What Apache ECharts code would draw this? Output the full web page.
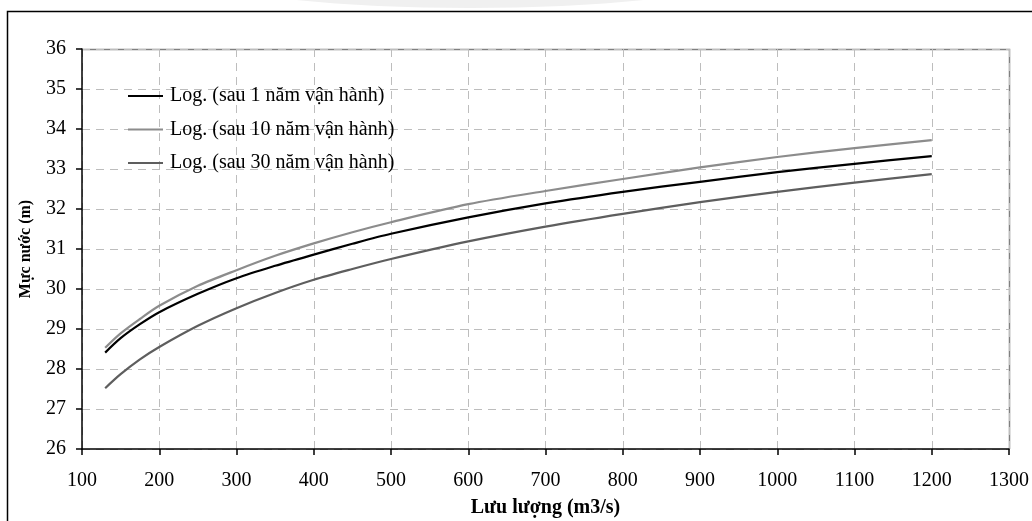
<!DOCTYPE html>
<html>
<head>
<meta charset="utf-8">
<script src="https://cdn.jsdelivr.net/npm/echarts@6/dist/echarts.min.js"></script>
<style>
  html, body { margin: 0; padding: 0; background: #fff; }
  #chart { width: 1032px; height: 521px; }
</style>
</head>
<body>
<div id="chart"></div>
<script>
// lưu lượng (m3/s)
const flows = [130, 150, 175, 200, 250, 300, 350, 400, 450, 500, 600, 700, 800, 900, 1000, 1100, 1200];

// mực nước (m)
const after1Year = [28.41, 28.77, 29.12, 29.42, 29.88, 30.27, 30.58, 30.86, 31.13, 31.38, 31.79, 32.14, 32.43, 32.68, 32.92, 33.13, 33.32];
const after10Years = [28.53, 28.89, 29.25, 29.58, 30.08, 30.47, 30.83, 31.14, 31.42, 31.67, 32.12, 32.45, 32.75, 33.04, 33.30, 33.52, 33.72];
const after30Years = [27.52, 27.87, 28.24, 28.55, 29.08, 29.52, 29.90, 30.23, 30.50, 30.75, 31.19, 31.56, 31.88, 32.17, 32.43, 32.66, 32.87];

const seriesNames = ['Log. (sau 1 năm vận hành)', 'Log. (sau 10 năm vận hành)', 'Log. (sau 30 năm vận hành)'];
const seriesColors = ['#000000', '#8c8c8c', '#5e5e5e'];

const font = '"Liberation Serif", "DejaVu Serif", serif';

const chart = echarts.init(document.getElementById('chart'), null, { renderer: 'canvas' });

function pairs(ys) {
  return flows.map((x, i) => [x, ys[i]]);
}

const allData = [after1Year, after10Years, after30Years];

const option = {
  backgroundColor: '#fff',
  animation: false,
  grid: { left: 82, right: 23, top: 49, bottom: 72, outerBoundsMode: 'none', containLabel: false },
  legend: {
    left: 128,
    top: 85,
    padding: 0,
    orient: 'vertical',
    itemGap: 11.5,
    itemWidth: 35,
    itemHeight: 2,
    icon: 'rect',
    textStyle: { fontFamily: font, fontSize: 20, color: '#000', padding: [0, 0, 0, 2], lineHeight: 22 },
    data: seriesNames
  },
  xAxis: {
    type: 'value',
    min: 100,
    max: 1300,
    interval: 100,
    name: 'Lưu lượng (m3/s)',
    nameLocation: 'middle',
    nameGap: 49,
    nameTextStyle: { fontFamily: font, fontSize: 20, fontWeight: 'bold', color: '#000' },
    axisLine: { onZero: false, lineStyle: { color: '#000', width: 1.5 } },
    axisTick: { show: true, length: 6, lineStyle: { color: '#000', width: 1.5 } },
    axisLabel: { fontFamily: font, fontSize: 20, color: '#000', margin: 22, formatter: v => String(v) },
    splitLine: { show: true, lineStyle: { color: '#bdbdbd', type: [8, 6], width: 1 } }
  },
  yAxis: {
    type: 'value',
    min: 26,
    max: 36,
    interval: 1,
    name: 'Mực nước (m)',
    nameLocation: 'middle',
    nameGap: 48,
    nameRotate: 90,
    nameTextStyle: { fontFamily: font, fontSize: 16, fontWeight: 'bold', color: '#000' },
    axisLine: { show: true, lineStyle: { color: '#000', width: 1.5 } },
    axisTick: { show: true, length: 6, lineStyle: { color: '#000', width: 1.5 } },
    axisLabel: { fontFamily: font, fontSize: 20, color: '#000', margin: 16, formatter: v => String(v) },
    splitLine: { show: true, lineStyle: { color: '#bdbdbd', type: [8, 6], width: 1 } }
  },
  graphic: [
    {
      // faint watermark arc at the top of the scan
      type: 'ellipse',
      shape: { cx: 470, cy: -42, rx: 320, ry: 50 },
      style: { fill: '#f0f0f0' },
      silent: true,
      z: -10
    },
    {
      // outer frame of the figure
      type: 'rect',
      shape: { x: 7.5, y: 11.5, width: 1100, height: 600 },
      style: { fill: null, stroke: '#000', lineWidth: 1.5 },
      silent: true
    },
    {
      // plot area border (top and right)
      type: 'polyline',
      shape: { points: [[82, 49.5], [1009.5, 49.5], [1009.5, 449]] },
      style: { stroke: '#808080', lineWidth: 1.5, fill: null },
      silent: true
    }
  ],
  series: seriesNames.map((name, i) => ({
    name: name,
    type: 'line',
    smooth: 0.3,
    showSymbol: false,
    data: pairs(allData[i]),
    lineStyle: { color: seriesColors[i], width: 2.2 },
    itemStyle: { color: seriesColors[i] },
    z: 3 - i
  }))
};

chart.setOption(option);
</script>
</body>
</html>
